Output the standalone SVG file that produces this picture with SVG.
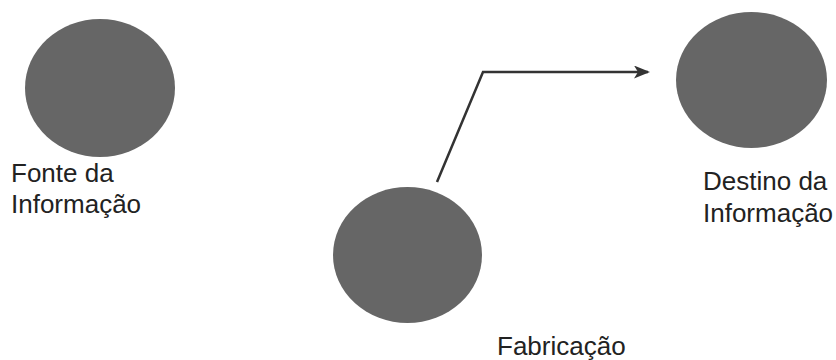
<svg xmlns="http://www.w3.org/2000/svg" width="836" height="360" viewBox="0 0 836 360">
<style>
.node{fill:#666666}
.lbl{font-family:"Liberation Sans",Arial,sans-serif;font-size:26px;fill:#222}
.conn{fill:none;stroke:#333;stroke-width:2.5}
</style>
<defs>
<marker id="arr" markerWidth="16" markerHeight="13" refX="14" refY="6.5" orient="auto" markerUnits="userSpaceOnUse" viewBox="0 0 16 13">
<path d="M0,0 L16,6.5 L0,13 L4,6.5 Z" fill="#333"/>
</marker>
</defs>
<rect width="836" height="360" fill="#fff"/>
<g id="fonte">
<ellipse class="node" cx="100" cy="88" rx="75" ry="69"/>
<text class="lbl" x="11" y="182">Fonte da</text>
<text class="lbl" x="11" y="213">Informação</text>
</g>
<g id="fabricacao">
<ellipse class="node" cx="407.5" cy="255" rx="74.5" ry="68"/>
<text class="lbl" x="497" y="355">Fabricação</text>
</g>
<g id="destino">
<ellipse class="node" cx="751.5" cy="80" rx="75.5" ry="68"/>
<text class="lbl" x="703" y="190">Destino da</text>
<text class="lbl" x="703" y="222">Informação</text>
</g>
<g id="connectors">
<polyline class="conn" points="437,182 483,72 648,72" marker-end="url(#arr)"/>
</g>
</svg>
